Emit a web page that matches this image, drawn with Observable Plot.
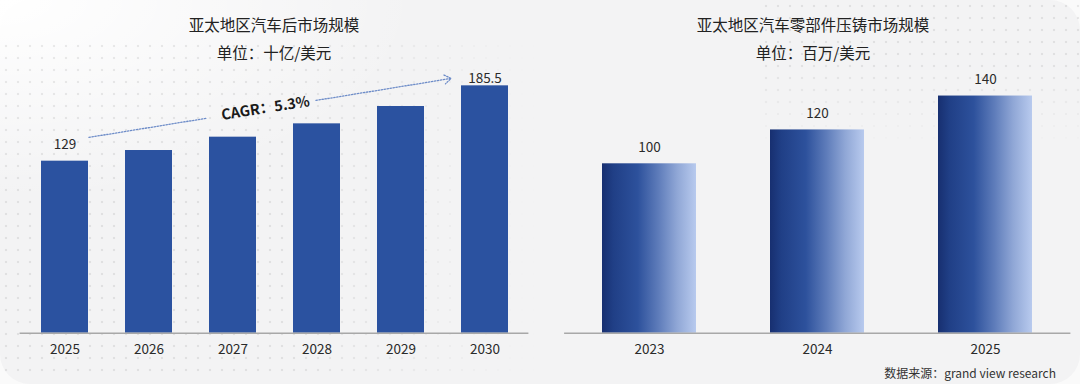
<!DOCTYPE html>
<html><head><meta charset="utf-8">
<script src="https://cdn.jsdelivr.net/npm/d3@7"></script>
<script src="https://cdn.jsdelivr.net/npm/@observablehq/plot@0.6"></script>
<style>
html,body{margin:0;padding:0;}
body{width:1080px;height:384px;overflow:hidden;background:#fafafa;font-family:"Noto Sans CJK SC","Noto Sans",sans-serif;position:relative;color:#222;}
#card{position:absolute;left:0;top:0;width:1080px;height:384px;border-radius:30px;background:#f3f3f4;}
#glow{position:absolute;left:0;top:0;width:1080px;height:384px;background:radial-gradient(ellipse 420px 200px at 0 0,#ffffff 0%,rgba(255,255,255,0) 100%);}
.dots{position:absolute;background-image:radial-gradient(circle,rgba(0,0,0,0.075) 1px,transparent 1.6px);background-size:12px 12px;}
#dotsL{left:0;top:40px;width:540px;height:340px;-webkit-mask-image:linear-gradient(to right,#000 55%,transparent 100%);mask-image:linear-gradient(to right,#000 55%,transparent 100%);}
#dotsR{left:760px;top:0;width:320px;height:150px;-webkit-mask-image:linear-gradient(to bottom,#000 40%,transparent 100%);mask-image:linear-gradient(to bottom,#000 40%,transparent 100%);}
.panel{position:absolute;top:0;width:540px;height:384px;}
.title{position:absolute;left:0;width:540px;text-align:center;font-size:15.5px;line-height:20px;color:#222;}
.t1{top:14px;} .t2{top:42px;}
.chart{position:absolute;left:0;top:60px;}
#source{position:absolute;right:24px;top:366px;font-size:12px;line-height:14px;color:#333;}
</style></head>
<body>
<div id="card"></div>
<div id="glow"></div>
<div class="dots" id="dotsL"></div>
<div class="dots" id="dotsR"></div>
<div class="panel" style="left:4px">
  <div class="title t1" id="lt1"></div>
  <div class="title t2" id="lt2"></div>
</div>
<div class="panel" style="left:543px">
  <div class="title t1" id="rt1"></div>
  <div class="title t2" id="rt2"></div>
</div>
<div class="panel" id="leftChart" style="left:0"><div class="chart" id="lc"></div></div>
<div class="panel" id="rightChart" style="left:540px"><div class="chart" id="rc"></div></div>
<div id="source"></div>
<script>
// ---- data ----
const leftTitle = "亚太地区汽车后市场规模";
const leftUnit = "单位：十亿/美元";
const leftYears = ["2025","2026","2027","2028","2029","2030"];
const leftValues = [129, 137, 147, 157, 170, 185.5];
const leftLabelled = ["2025","2030"];

const rightTitle = "亚太地区汽车零部件压铸市场规模";
const rightUnit = "单位：百万/美元";
const rightYears = ["2023","2024","2025"];
const rightValues = [100, 120, 140];

const cagrText = "CAGR：5.3%";
const cagrFrom = ["2025", 143.9];
const cagrTo = ["2030", 195.2];
const cagrLabelAt = ["2027", 168.6];

const sourceText = "数据来源：grand view research";

// ---- text ----
document.getElementById("lt1").textContent = leftTitle;
document.getElementById("lt2").textContent = leftUnit;
document.getElementById("rt1").textContent = rightTitle;
document.getElementById("rt2").textContent = rightUnit;
document.getElementById("source").textContent = sourceText;

const font = "'Noto Sans CJK SC','Noto Sans',sans-serif";
const leftData = leftYears.map((year, i) => ({year, value: leftValues[i]}));
const rightData = rightYears.map((year, i) => ({year, value: rightValues[i]}));
const cagrLine = [{x1: cagrFrom[0], y1: cagrFrom[1], x2: cagrTo[0], y2: cagrTo[1]}];
const cagrLabel = [{year: cagrLabelAt[0], value: cagrLabelAt[1], text: cagrText}];
const dotted = {stroke: "#6d8cc8", strokeWidth: 1.3, strokeDasharray: "1.4 1.6", bend: 0};

const left = Plot.plot({
  width: 540, height: 300,
  marginLeft: 19.6, marginRight: 11.6, marginTop: 6, marginBottom: 27.3,
  style: {background: "transparent", fontFamily: font, fontSize: "13.5px", color: "#2a2a2a", overflow: "visible"},
  x: {domain: leftYears, paddingInner: 0.446, paddingOuter: 0.223, label: null, tickSize: 0, tickPadding: 11.5},
  y: {domain: [0, 200], axis: null},
  marks: [
    Plot.barY(leftData, {x: "year", y: "value", fill: "#2b52a0"}),
    Plot.ruleY([0], {stroke: "#a8a8a8", strokeWidth: 1.5}),
    Plot.text(leftData.filter(d => d.year === leftLabelled[0]), {x: "year", y: "value", text: d => String(d.value), dy: -16.5, fontSize: 13.5, fill: "#2a2a2a"}),
    Plot.text(leftData.filter(d => d.year === leftLabelled[1]), {x: "year", y: "value", text: d => String(d.value), dy: -7, fontSize: 13.5, fill: "#2a2a2a"}),
    Plot.arrow(cagrLine, {x1: "x1", y1: "y1", x2: "x2", y2: "y2", insetStart: 24.3, insetEnd: 281.6, headLength: 0, ...dotted}),
    Plot.arrow(cagrLine, {x1: "x1", y1: "y1", x2: "x2", y2: "y2", insetStart: 254.3, insetEnd: 34.4, headLength: 9, headAngle: 70, ...dotted}),
    Plot.text(cagrLabel, {x: "year", y: "value", text: "text", dx: 32.5, rotate: -9, fontSize: 14.5, fontWeight: "bold", fill: "#1a1a1a"})
  ]
});
document.getElementById("lc").appendChild(left);

const right = Plot.plot({
  width: 540, height: 300,
  marginLeft: 24.1, marginRight: 9.6, marginTop: 18.6, marginBottom: 27.3,
  style: {background: "transparent", fontFamily: font, fontSize: "13.5px", color: "#2a2a2a", overflow: "visible"},
  x: {domain: rightYears, paddingInner: 0.44, paddingOuter: 0.22, label: null, tickSize: 0, tickPadding: 11.5},
  y: {domain: [0, 150], axis: null},
  marks: [
    Plot.barY(rightData, {x: "year", y: "value", fill: "url(#barGrad)"}),
    Plot.ruleY([0], {stroke: "#a8a8a8", strokeWidth: 1.5}),
    Plot.text(rightData, {x: "year", y: "value", text: d => String(d.value), dy: -16.5, fontSize: 13.5, fill: "#2a2a2a"})
  ]
});
// gradient definition
const ns = "http://www.w3.org/2000/svg";
const defs = document.createElementNS(ns, "defs");
const grad = document.createElementNS(ns, "linearGradient");
grad.setAttribute("id", "barGrad");
grad.setAttribute("x1", "0"); grad.setAttribute("x2", "1");
grad.setAttribute("y1", "0"); grad.setAttribute("y2", "0");
[["0%", "#172f70"], ["12%", "#203f86"], ["38%", "#2d519c"], ["60%", "#5e7cba"], ["80%", "#90a7d6"], ["100%", "#b8caee"]].forEach(([o, c]) => {
  const s = document.createElementNS(ns, "stop");
  s.setAttribute("offset", o); s.setAttribute("stop-color", c);
  grad.appendChild(s);
});
defs.appendChild(grad);
right.insertBefore(defs, right.firstChild);
document.getElementById("rc").appendChild(right);
</script>
</body></html>
